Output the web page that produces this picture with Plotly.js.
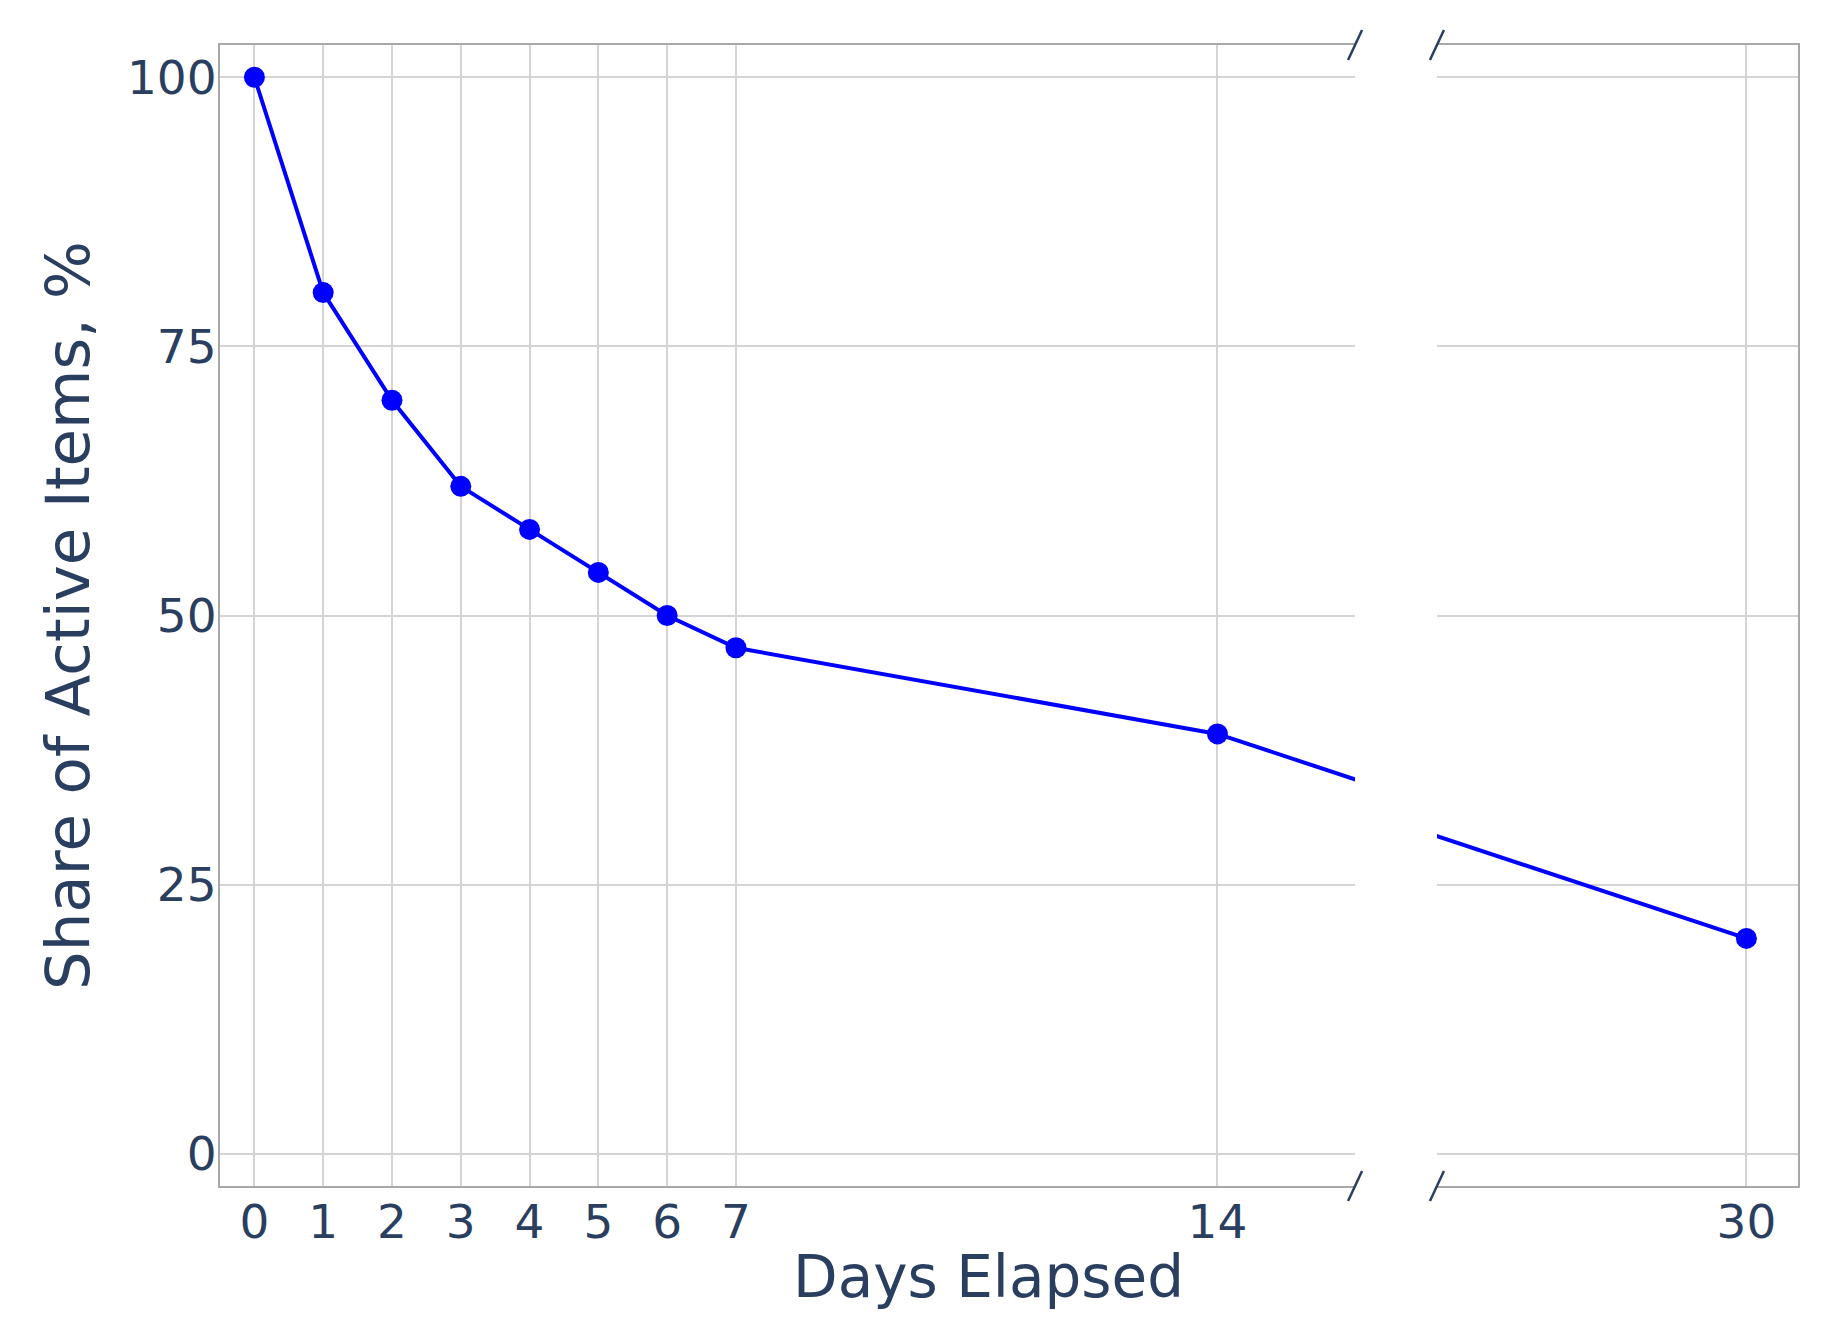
<!DOCTYPE html>
<html>
<head>
<meta charset="utf-8">
<script src="https://cdn.plot.ly/plotly-3.0.1.min.js"></script>
<style>
  body { margin: 0; background: #fff; }
  #chart { width: 1830px; height: 1328px; }
</style>
</head>
<body>
<div id="chart"></div>
<script>
// data
var days = [0, 1, 2, 3, 4, 5, 6, 7, 14, 30];
var share = [100, 80, 70, 62, 58, 54, 50, 47, 39, 20];
var leftTicks = [0, 1, 2, 3, 4, 5, 6, 7, 14];
var rightTicks = [30];
var yTicks = [0, 25, 50, 75, 100];

// broken x axis: the span between the two panels is cut out,
// so days after the break slide left by this many units
var breakAt = 16;
var hiddenSpan = 7;
function pos(d) { return d > breakAt ? d - hiddenSpan : d; }

var xs = days.map(pos);

var lineColor = 'blue';
var gridColor = '#d4d4d4';
var frameColor = '#a8a8a8';
var textColor = '#2a3f5f';
var font = 'DejaVu Sans, Verdana, sans-serif';

var leftEnd = 0.7193;
var rightStart = 0.7712;

function makeTrace(xa, ya) {
    return {
        x: xs,
        y: share,
        xaxis: xa,
        yaxis: ya,
        type: 'scatter',
        mode: 'lines+markers',
        line: { color: lineColor, width: 4 },
        marker: { color: lineColor, size: 21 },
        cliponaxis: true,
        showlegend: false,
        hoverinfo: 'x+y'
    };
}

var data = [makeTrace('x', 'y'), makeTrace('x2', 'y2')];

var baseX = {
    showgrid: true,
    gridcolor: gridColor,
    gridwidth: 1.5,
    zeroline: false,
    showline: true,
    linecolor: frameColor,
    linewidth: 2,
    mirror: true,
    ticks: '',
    tickmode: 'array',
    ticklabelstandoff: -6,
    tickfont: { family: font, size: 47, color: textColor }
};

var layout = {
    width: 1830,
    height: 1328,
    margin: { l: 220, r: 32, t: 45, b: 142 },
    paper_bgcolor: '#fff',
    plot_bgcolor: '#fff',
    font: { family: font, color: textColor },
    xaxis: Object.assign({}, baseX, {
        domain: [0, leftEnd],
        range: [-0.5, breakAt],
        tickvals: leftTicks.map(pos),
        ticktext: leftTicks.map(String),
        anchor: 'y'
    }),
    xaxis2: Object.assign({}, baseX, {
        domain: [rightStart, 1],
        range: [pos(30) - 4.5, pos(30) + 0.75],
        tickvals: rightTicks.map(pos),
        ticktext: rightTicks.map(String),
        anchor: 'y2'
    }),
    yaxis: {
        range: [-3, 103],
        tickvals: yTicks,
        showgrid: true,
        gridcolor: gridColor,
        gridwidth: 1.5,
        zeroline: false,
        showline: true,
        linecolor: frameColor,
        linewidth: 2,
        ticks: '',
        ticklabelstandoff: -8,
        tickfont: { family: font, size: 47, color: textColor },
        title: {
            text: 'Share of Active Items, %',
            font: { family: font, size: 61, color: textColor },
            standoff: 18
        },
        anchor: 'x'
    },
    yaxis2: {
        range: [-3, 103],
        tickvals: yTicks,
        showgrid: true,
        gridcolor: gridColor,
        gridwidth: 1.5,
        zeroline: false,
        showline: true,
        linecolor: frameColor,
        linewidth: 2,
        side: 'right',
        showticklabels: false,
        ticks: '',
        anchor: 'x2'
    },
    annotations: [{
        text: 'Days Elapsed',
        xref: 'paper',
        yref: 'paper',
        x: 0.4873,
        y: 0,
        yshift: -91,
        xanchor: 'center',
        yanchor: 'middle',
        showarrow: false,
        font: { family: font, size: 58, color: textColor }
    }],
    shapes: []
};

// break marks "/" on top and bottom of both panels
[leftEnd, rightStart].forEach(function(px) {
    [0, 1].forEach(function(py) {
        layout.shapes.push({
            type: 'line',
            xref: 'paper',
            yref: 'paper',
            xsizemode: 'pixel',
            ysizemode: 'pixel',
            xanchor: px,
            yanchor: py,
            x0: -7, x1: 7,
            y0: -15, y1: 15,
            line: { color: textColor, width: 2.5 }
        });
    });
});

Plotly.newPlot('chart', data, layout, { displayModeBar: false });
</script>
</body>
</html>
